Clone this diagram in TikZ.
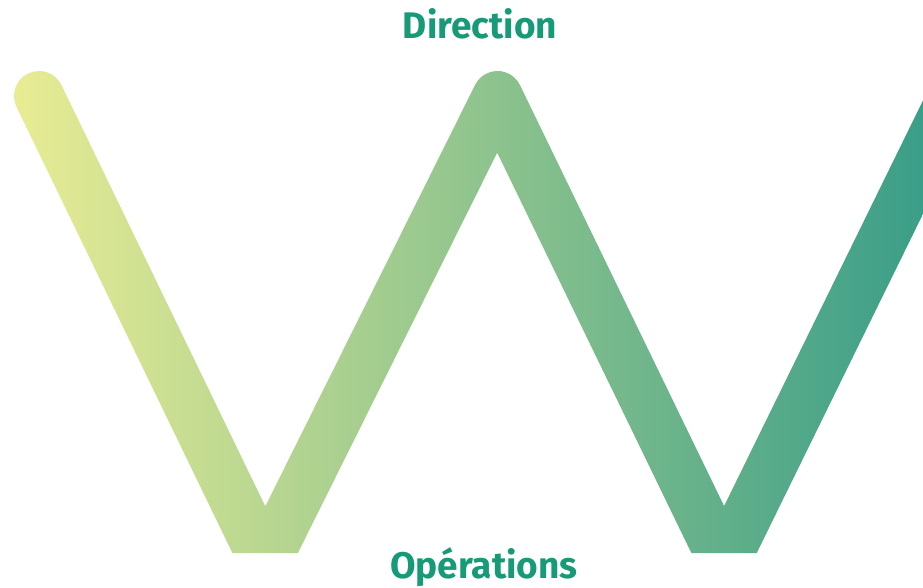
\documentclass[tikz,border=0pt]{standalone}
\usepackage{fontspec}
\newfontfamily\labelfont{Fira Sans}
\definecolor{wleft}{HTML}{EBED94}
\definecolor{wmid}{HTML}{98C795}
\definecolor{wright}{HTML}{3B9E88}
\definecolor{labelcol}{HTML}{179A78}
\tikzset{
  lbl/.style={font=\labelfont\bfseries\fontsize{37}{39}\selectfont, text=labelcol, anchor=base, inner sep=0pt},
}
\begin{document}
\begin{tikzpicture}[x=1pt,y=1pt]
\begin{scope}[yscale=-1]
\useasboundingbox (0,0) rectangle (923,587);
\clip (0,0) rectangle (923,587);
\begin{scope}
\clip (16.50,106.89) -- (232.4,553) -- (297.9,553) -- (497.2,152.7) -- (691.37,553) -- (756.75,553) -- (980.84,96) -- (925.16,96) -- (724.1,506) -- (519.99,85.09) arc[start angle=334.13, end angle=206.46, radius=25] -- (265.3,506.3) -- (61.50,85.11) arc[start angle=334.17, end angle=154.17, radius=25] -- cycle;
\shade[left color=wleft, middle color=wmid, right color=wright] (0,0) rectangle (923,587);
\end{scope}
\node[lbl] (dir) at (480,38) {Direction};
\node[lbl] (ops) at (484,578) {Opérations};
\end{scope}
\end{tikzpicture}
\end{document}
